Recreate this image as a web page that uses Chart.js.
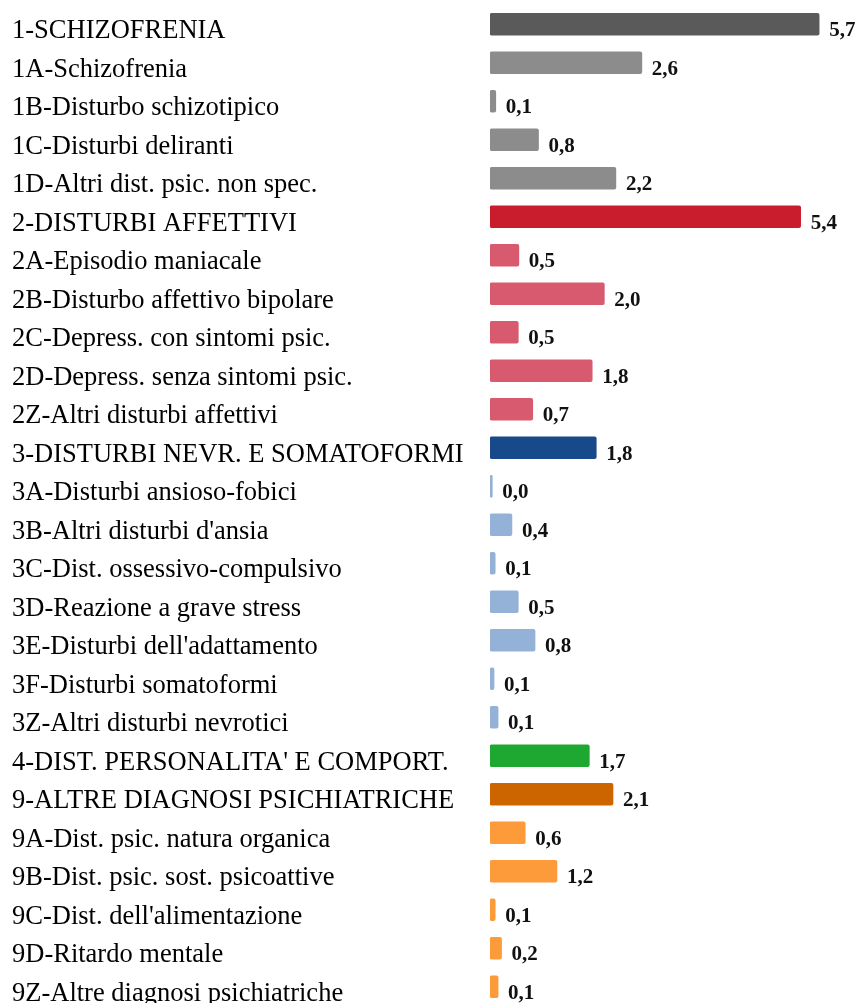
<!DOCTYPE html>
<html>
<head>
<meta charset="utf-8">
<script src="https://cdn.jsdelivr.net/npm/chart.js@4.4.1/dist/chart.umd.min.js"></script>
<style>
html,body{margin:0;padding:0;background:#fff;overflow:hidden;}
</style>
</head>
<body>
<canvas id="c" width="856" height="1006"></canvas>
<script>
const categories = [
  "1-SCHIZOFRENIA",
  "1A-Schizofrenia",
  "1B-Disturbo schizotipico",
  "1C-Disturbi deliranti",
  "1D-Altri dist. psic. non spec.",
  "2-DISTURBI AFFETTIVI",
  "2A-Episodio maniacale",
  "2B-Disturbo affettivo bipolare",
  "2C-Depress. con sintomi psic.",
  "2D-Depress. senza sintomi psic.",
  "2Z-Altri disturbi affettivi",
  "3-DISTURBI NEVR. E SOMATOFORMI",
  "3A-Disturbi ansioso-fobici",
  "3B-Altri disturbi d'ansia",
  "3C-Dist. ossessivo-compulsivo",
  "3D-Reazione a grave stress",
  "3E-Disturbi dell'adattamento",
  "3F-Disturbi somatoformi",
  "3Z-Altri disturbi nevrotici",
  "4-DIST. PERSONALITA' E COMPORT.",
  "9-ALTRE DIAGNOSI PSICHIATRICHE",
  "9A-Dist. psic. natura organica",
  "9B-Dist. psic. sost. psicoattive",
  "9C-Dist. dell'alimentazione",
  "9D-Ritardo mentale",
  "9Z-Altre diagnosi psichiatriche"
];
const values = [
  5.70, 2.63, 0.10, 0.84, 2.18,
  5.38, 0.50, 1.98, 0.49, 1.77, 0.74,
  1.84, 0.04, 0.38, 0.09, 0.49, 0.78, 0.07, 0.14,
  1.72,
  2.13, 0.61, 1.16, 0.09, 0.20, 0.14
];
const barColors = [
  "#5a5a5a", "#8c8c8c", "#8c8c8c", "#8c8c8c", "#8c8c8c",
  "#c91c2c", "#d85a6f", "#d85a6f", "#d85a6f", "#d85a6f", "#d85a6f",
  "#17498b", "#94b2d8", "#94b2d8", "#94b2d8", "#94b2d8", "#94b2d8", "#94b2d8", "#94b2d8",
  "#1ea832",
  "#cc6400", "#fd9a3a", "#fd9a3a", "#fd9a3a", "#fd9a3a", "#fd9a3a"
];

const valueLabels = {
  id: 'valueLabels',
  afterDatasetsDraw(chart) {
    const ctx = chart.ctx;
    const meta = chart.getDatasetMeta(0);
    ctx.save();
    ctx.font = 'bold 21px "Liberation Serif", "Times New Roman", serif';
    ctx.fillStyle = '#111';
    ctx.textAlign = 'left';
    ctx.textBaseline = 'alphabetic';
    meta.data.forEach((el, i) => {
      const txt = values[i].toFixed(1).replace('.', ',');
      ctx.fillText(txt, el.x + 10, el.y + 12);
    });
    ctx.restore();
  }
};

new Chart(document.getElementById('c'), {
  type: 'bar',
  data: {
    labels: categories,
    datasets: [{
      data: values,
      backgroundColor: barColors,
      borderWidth: 0,
      borderRadius: 2,
      borderSkipped: false,
      barThickness: 22
    }]
  },
  options: {
    indexAxis: 'y',
    responsive: false,
    animation: false,
    devicePixelRatio: 1,
    layout: { padding: { left: 12, right: 8, top: 5, bottom: 0 } },
    plugins: { legend: { display: false }, tooltip: { enabled: false } },
    scales: {
      x: { display: false, min: 0, max: 6.2 },
      y: {
        grid: { display: false },
        border: { display: false },
        afterFit(scale) {
          scale.width = 478;
          scale.paddingTop = 0;
          scale.paddingBottom = 0;
        },
        ticks: {
          crossAlign: 'far',
          padding: 0,
          labelOffset: 7,
          autoSkip: false,
          color: '#000',
          font: { family: '"Liberation Serif", "Times New Roman", serif', size: 26.5 }
        }
      }
    }
  },
  plugins: [valueLabels]
});
</script>
</body>
</html>
